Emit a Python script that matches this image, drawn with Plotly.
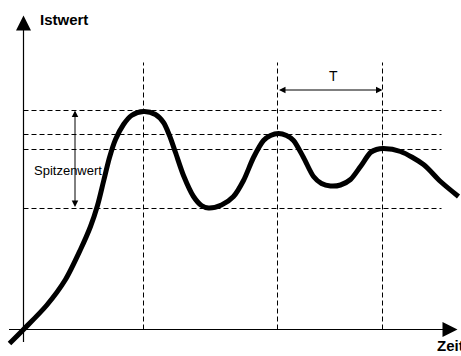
import plotly.graph_objects as go

zeit = [-14, 0, 23, 42, 57, 67, 74, 80, 86, 92, 100, 108, 120,
        132, 140, 146, 152, 160, 170, 178, 185,
        198, 210, 220, 230, 240, 247, 255,
        263, 270, 280, 290, 298, 307,
        317, 327, 337, 347, 353, 360,
        377, 400, 417, 435]
istwert = [-14, 0, 24, 50, 80, 103, 124, 148, 172, 190, 205, 214, 218,
           215, 207, 194, 177, 154, 133, 124, 121.5,
           124.5, 133, 149, 172, 189, 194, 196,
           194, 189, 172, 153, 146, 143.5,
           144.5, 150, 163, 177, 180, 181,
           178, 165, 148, 133]

peak_times = [120, 254, 359]          # vertical guide lines
level_values = [219, 195, 180, 121]   # horizontal guide lines
guide_top = 267
guide_right = 418
x_axis_range = [-23.5, 437.5]
y_axis_range = [-26.5, 329.5]

fig = go.Figure()

# horizontal dashed guides
hx, hy = [], []
for lv in level_values:
    hx += [0, guide_right, None]
    hy += [lv, lv, None]
fig.add_trace(go.Scatter(x=hx, y=hy, mode="lines",
                         line=dict(color="black", width=1, dash="5px,3px"),
                         hoverinfo="skip", showlegend=False))

# vertical dashed guides
vx, vy = [], []
for pt in peak_times:
    vx += [pt, pt, None]
    vy += [0, guide_top, None]
fig.add_trace(go.Scatter(x=vx, y=vy, mode="lines",
                         line=dict(color="black", width=1, dash="5px,3px"),
                         hoverinfo="skip", showlegend=False))

# main curve
fig.add_trace(go.Scatter(x=zeit, y=istwert, mode="lines",
                         line=dict(color="black", width=5, shape="spline", smoothing=0.8),
                         hoverinfo="skip", showlegend=False))

font_reg = dict(family="Liberation Sans, Arial, sans-serif", size=13, color="black")
font_bold = dict(family="Liberation Sans, Arial, sans-serif", size=15, color="black")

annotations = [
    # y axis arrow
    dict(x=0, y=314, ax=0, ay=-14, xref="x", yref="y", axref="x", ayref="y",
         text="", showarrow=True, arrowhead=2, arrowsize=2.5, arrowwidth=1.2, arrowcolor="black"),
    # x axis arrow
    dict(x=434, y=0, ax=-16, ay=0, xref="x", yref="y", axref="x", ayref="y",
         text="", showarrow=True, arrowhead=2, arrowsize=2.5, arrowwidth=1.2, arrowcolor="black"),
    # Spitzenwert double arrow
    dict(x=51.5, y=level_values[0], ax=51.5, ay=level_values[3], xref="x", yref="y",
         axref="x", ayref="y", text="", showarrow=True, arrowside="end+start",
         arrowhead=2, startarrowhead=2, arrowsize=1.3, startarrowsize=1.3,
         arrowwidth=1, arrowcolor="black"),
    # T double arrow
    dict(x=peak_times[2], y=239.5, ax=peak_times[1], ay=239.5, xref="x", yref="y",
         axref="x", ayref="y", text="", showarrow=True, arrowside="end+start",
         arrowhead=2, startarrowhead=2, arrowsize=1.3, startarrowsize=1.3,
         arrowwidth=1, arrowcolor="black"),
    dict(x=14, y=310, xref="x", yref="y", text="<b>Istwert</b>", showarrow=False,
         xanchor="left", yanchor="middle", font=font_bold),
    dict(x=411.5, y=-15.5, xref="x", yref="y", text="<b>Zeit</b>", showarrow=False,
         xanchor="left", yanchor="middle", font=font_bold),
    dict(x=8.5, y=159.5, xref="x", yref="y", text="Spitzenwert", showarrow=False,
         xanchor="left", yanchor="middle", font=font_reg),
    dict(x=309.5, y=253.5, xref="x", yref="y", text="T", showarrow=False,
         xanchor="center", yanchor="middle", font=dict(font_reg, size=14)),
]

fig.update_layout(
    width=461, height=356,
    margin=dict(l=0, r=0, t=0, b=0),
    paper_bgcolor="white", plot_bgcolor="white",
    xaxis=dict(range=x_axis_range, visible=False, fixedrange=True),
    yaxis=dict(range=y_axis_range, visible=False, fixedrange=True),
    annotations=annotations,
)

fig.write_html("out.html", config={"displayModeBar": False},
               post_script="document.body.style.margin='0px';document.body.style.overflow='hidden';")
